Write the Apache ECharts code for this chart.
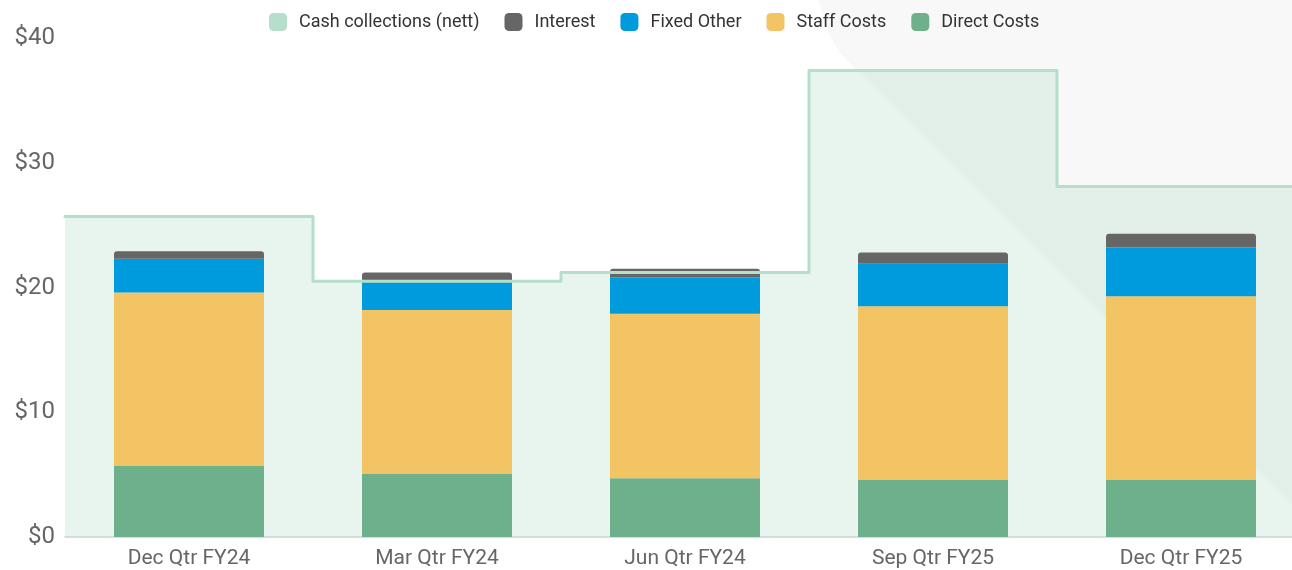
<!DOCTYPE html>
<html>
<head>
<meta charset="utf-8">
<script src="https://cdn.jsdelivr.net/npm/echarts@6/dist/echarts.min.js"></script>
<style>
  html, body { margin: 0; padding: 0; background: #fff; }
  #main { width: 1292px; height: 570px; }
</style>
</head>
<body>
<div id="main"></div>
<script>
// quarters on the x axis
const categories = ['Dec Qtr FY24', 'Mar Qtr FY24', 'Jun Qtr FY24', 'Sep Qtr FY25', 'Dec Qtr FY25']
// stacked cost components ($m)
const directCosts = [5.7, 5.1, 4.7, 4.6, 4.6]
const staffCosts = [13.9, 13.1, 13.2, 13.9, 14.7]
const fixedOther = [2.7, 2.4, 2.9, 3.4, 3.9]
const interest = [0.6, 0.6, 0.7, 0.9, 1.1]
// cash collections per quarter (step line)
const cashCollections = [25.7, 20.5, 21.2, 37.4, 28.1]
const yTicks = [0, 10, 20, 30, 40]

// step points on a hidden value axis: quarter i spans [i, i+1]
const cashSteps = cashCollections.map((v, i) => [i, v])
cashSteps.push([cashCollections.length, cashCollections[cashCollections.length - 1]])

const chart = echarts.init(document.getElementById('main'))
const font = 'Roboto, "Noto Sans", sans-serif'

const barBase = {
  type: 'bar',
  stack: 'costs',
  barWidth: 150,
  z: 3,
  xAxisIndex: 0
}

const option = {
  backgroundColor: '#fff',
  textStyle: { fontFamily: font },
  graphic: [
    {
      type: 'polygon',
      z: -10,
      silent: true,
      shape: { points: [[818, 0], [1292, 0], [1292, 505], [840, 53], [828, 32]] },
      style: { fill: '#f8f8f8' }
    }
  ],
  legend: {
    top: 8,
    left: 264,
    itemWidth: 18,
    itemHeight: 18,
    itemGap: 25,
    icon: 'roundRect',
    textStyle: { fontSize: 18, color: '#333', fontFamily: font, padding: [0, 0, 0, 7] },
    data: ['Cash collections (nett)', 'Interest', 'Fixed Other', 'Staff Costs', 'Direct Costs']
  },
  grid: { left: 65, top: 38, width: 1240, bottom: 33, containLabel: false, outerBoundsMode: 'none' },
  xAxis: [
    {
      type: 'category',
      data: categories,
      axisTick: { show: false },
      axisLine: { lineStyle: { color: '#cfcfcf', width: 1.5 } },
      axisLabel: { fontSize: 21, color: '#666', margin: 11, fontFamily: font }
    },
    {
      type: 'value',
      min: 0,
      max: categories.length,
      show: false
    }
  ],
  yAxis: {
    type: 'value',
    min: yTicks[0],
    max: yTicks[yTicks.length - 1],
    interval: 10,
    splitLine: { show: false },
    axisLine: { show: false },
    axisTick: { show: false },
    axisLabel: {
      fontSize: 24,
      color: '#666',
      margin: 10,
      fontFamily: font,
      formatter: v => '$' + v
    }
  },
  series: [
    {
      name: 'Cash collections (nett)',
      type: 'line',
      xAxisIndex: 1,
      data: cashSteps,
      step: 'end',
      symbol: 'none',
      z: 1,
      color: '#b5dfca',
      lineStyle: { width: 0 },
      areaStyle: { color: 'rgba(181, 223, 202, 0.32)', opacity: 1 }
    },
    {
      name: 'Cash collections (nett)',
      type: 'line',
      xAxisIndex: 1,
      data: cashSteps,
      step: 'end',
      symbol: 'none',
      z: 5,
      color: '#b5dfca',
      lineStyle: { width: 3, color: '#b5dfca', join: 'round', cap: 'round' }
    },
    Object.assign({}, barBase, {
      name: 'Direct Costs',
      data: directCosts,
      itemStyle: { color: '#6eb08b' }
    }),
    Object.assign({}, barBase, {
      name: 'Staff Costs',
      data: staffCosts,
      itemStyle: { color: '#f2c464' }
    }),
    Object.assign({}, barBase, {
      name: 'Fixed Other',
      data: fixedOther,
      itemStyle: { color: '#009bdd' }
    }),
    Object.assign({}, barBase, {
      name: 'Interest',
      data: interest,
      itemStyle: { color: '#666666', borderRadius: [3, 3, 0, 0] }
    })
  ]
}

chart.setOption(option)
</script>
</body>
</html>
